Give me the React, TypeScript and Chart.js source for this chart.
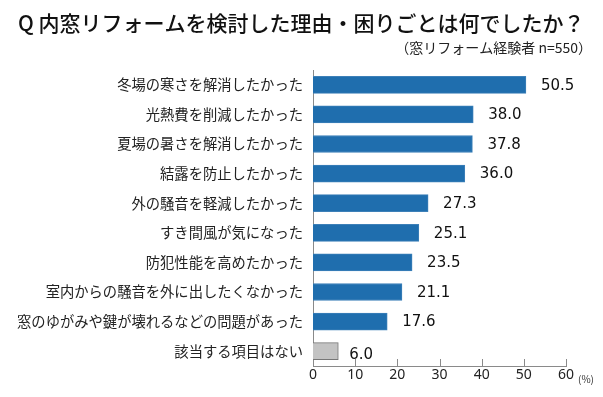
import React, { useEffect, useRef } from "react";
import { Chart, registerables } from "chart.js";

Chart.register(...registerables);

const titleText = "Q 内窓リフォームを検討した理由・困りごとは何でしたか？";
const subtitleText = "（窓リフォーム経験者 n=550）";
const categories = [
  "冬場の寒さを解消したかった",
  "光熱費を削減したかった",
  "夏場の暑さを解消したかった",
  "結露を防止したかった",
  "外の騒音を軽減したかった",
  "すき間風が気になった",
  "防犯性能を高めたかった",
  "室内からの騒音を外に出したくなかった",
  "窓のゆがみや鍵が壊れるなどの問題があった",
  "該当する項目はない",
];
const values = [50.5, 38.0, 37.8, 36.0, 27.3, 25.1, 23.5, 21.1, 17.6, 6.0];
const xTicks = [0, 10, 20, 30, 40, 50, 60];
const unitLabel = "(%)";

const BLUE = "#1f6eae";
const GRAY = "#c3c3c3";

export default function App() {
  const ref = useRef<HTMLCanvasElement | null>(null);
  useEffect(() => {
    document.body.style.margin = "0";
    const canvas = ref.current!;
    const decor = {
      id: "decor",
      afterDraw(chart: any) {
        const ctx = chart.ctx;
        const xs = chart.scales.x;
        const area = chart.chartArea;
        ctx.save();
        // title
        ctx.fillStyle = "#111";
        ctx.textBaseline = "middle";
        ctx.textAlign = "left";
        ctx.font = "500 21px 'Noto Sans CJK JP'";
        ctx.fillText(titleText, 18, 23);
        ctx.font = "14px 'Noto Sans CJK JP'";
        ctx.textAlign = "right";
        ctx.fillStyle = "#222";
        ctx.fillText(subtitleText, 592, 48);
        // inward ticks
        ctx.strokeStyle = "#8a8a8a";
        ctx.lineWidth = 1;
        for (const t of xTicks) {
          if (t === 0) continue;
          const px = Math.round(xs.getPixelForValue(t)) + 0.5;
          ctx.beginPath();
          ctx.moveTo(px, area.bottom);
          ctx.lineTo(px, area.bottom - 7);
          ctx.stroke();
        }
        // unit
        ctx.fillStyle = "#333";
        ctx.font = "10px 'Noto Sans CJK JP'";
        ctx.textAlign = "left";
        ctx.fillText(unitLabel, 578, area.bottom + 13);
        // value labels
        const meta = chart.getDatasetMeta(0);
        ctx.fillStyle = "#111";
        ctx.font = "15px 'DejaVu Sans'";
        ctx.textAlign = "left";
        meta.data.forEach((bar: any, i: number) => {
          const last = i === values.length - 1;
          ctx.fillText(values[i].toFixed(1), bar.x + (last ? 11 : 15), bar.y + (last ? 4 : 1));
        });
        ctx.restore();
      },
    };
    const chart = new Chart(canvas, {
      type: "bar",
      data: {
        labels: categories,
        datasets: [
          {
            data: values,
            backgroundColor: values.map((_, i) => (i === values.length - 1 ? GRAY : BLUE)),
            borderColor: values.map((_, i) => (i === values.length - 1 ? "#777" : "#3d80b8")),
            borderWidth: 1,
            barThickness: 17,
          },
        ],
      },
      options: {
        indexAxis: "y",
        animation: false,
        responsive: false,
        maintainAspectRatio: false,
        layout: { padding: { top: 70, right: 37, bottom: 0, left: 0 } },
        plugins: { legend: { display: false }, tooltip: { enabled: false }, title: { display: false } },
        scales: {
          x: {
            min: 0,
            max: 60,
            ticks: { stepSize: 10, color: "#222", font: { family: "'Noto Sans'", size: 14 }, padding: 1 },
            grid: { display: false, drawTicks: false },
            border: { display: true, color: "#8a8a8a" },
            afterFit(scale: any) {
              scale.height = 31;
            },
          },
          y: {
            ticks: { color: "#222", font: { family: "'Noto Sans CJK JP'", size: 14.3 }, padding: 10 },
            grid: { display: false, drawTicks: false },
            border: { display: true, color: "#8a8a8a" },
            afterFit(scale: any) {
              scale.width = 313;
            },
          },
        },
      },
      plugins: [decor],
    });
    return () => chart.destroy();
  }, []);
  return (
    <div style={{ position: "fixed", left: 0, top: 0, width: 603, height: 397, background: "#fff" }}>
      <canvas ref={ref} width={603} height={397} style={{ width: 603, height: 397 }} />
    </div>
  );
}
